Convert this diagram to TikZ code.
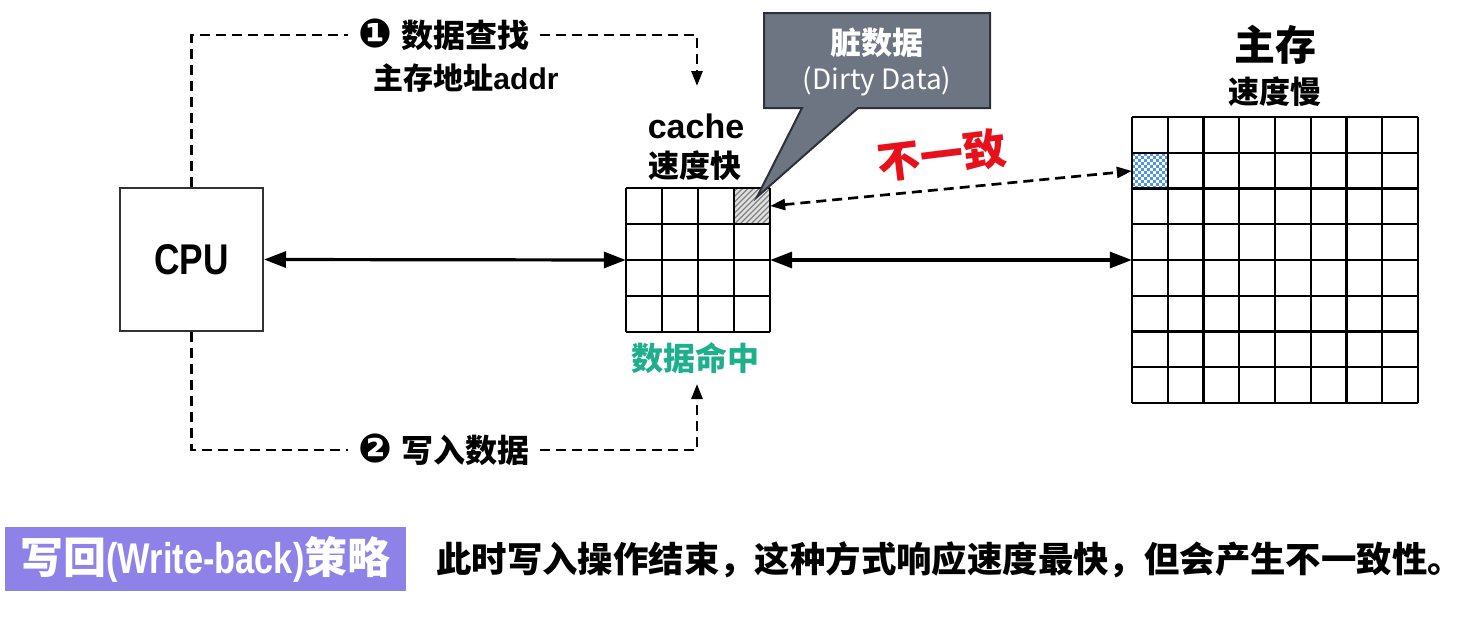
\documentclass[tikz,border=0pt]{standalone}
\usepackage{fontspec}
\usepackage{graphicx}
\setmainfont{Liberation Sans}
\newfontfamily\cjk{Noto Sans CJK SC}
\newfontfamily\dv{DejaVu Sans}
\usetikzlibrary{arrows.meta}
\definecolor{calloutgray}{RGB}{110,117,130}
\definecolor{calloutedge}{RGB}{45,50,58}
\definecolor{bannerpurple}{RGB}{142,129,232}
\definecolor{hitteal}{RGB}{30,176,140}
\definecolor{redtext}{RGB}{232,16,26}
\definecolor{memblue}{RGB}{80,150,230}
\definecolor{hatchgray}{RGB}{130,130,130}
\tikzset{
  gridline/.style={line width=2.2pt, black},
  boxline/.style={draw=black!80, line width=2pt},
  solidarrow/.style={line width=3.2pt, {Triangle[length=22pt,width=16pt]}-{Triangle[length=22pt,width=16pt]}},
  dashline/.style={line width=2.7pt, dash pattern=on 10pt off 6pt},
  dashtip/.style={dashline, -{Triangle[length=15pt,width=11pt]}},
  dashboth/.style={dashline, {Triangle[length=15pt,width=11pt]}-{Triangle[length=15pt,width=11pt]}},
  steplabel/.style={font=\bfseries\fontsize{32}{36}\selectfont, inner xsep=10pt, inner ysep=2pt},
  cjklabel/.style={font=\cjk\bfseries\fontsize{31}{35}\selectfont, inner sep=0pt},
}
\begin{document}
\begin{tikzpicture}[x=1pt,y=-1pt]
\useasboundingbox[fill=white] (0,0) rectangle (1465,621);

% CPU
\node[boxline, minimum width=143pt, minimum height=143pt, inner sep=0pt] (cpu) at (191.5,259.5)
  {\bfseries\fontsize{43}{46}\selectfont\scalebox{0.82}[1]{CPU}};

% cache grid
\node[minimum width=144pt, minimum height=144pt, inner sep=0pt] (cache) at (698,260) {};
\node[minimum width=36pt, minimum height=36pt, inner sep=0pt] (dirty) at (752,206) {};
\begin{scope}
  \clip (734,188) rectangle (770,224);
  \fill[black!12] (734,188) rectangle (770,224);
  \foreach \d in {-40,-34.5,...,40} \draw[hatchgray, line width=1.2pt] (734+\d,226) -- ++(40,-40);
\end{scope}
\foreach \i in {0,...,4} {
  \draw[gridline] (626+36*\i,188) -- (626+36*\i,332);
  \draw[gridline] (626,188+36*\i) -- (770,188+36*\i);
}

% main memory grid
\node[minimum width=286pt, minimum height=286pt, inner sep=0pt] (mem) at (1275,260) {};
\node[minimum width=36pt, minimum height=36pt, inner sep=0pt] (memcell) at (1150,171) {};
\foreach \i in {0,...,11}{\foreach \j in {0,...,11}{%
  \pgfmathtruncatemacro\k{mod(\i+\j,2)}%
  \ifnum\k=0 \fill[memblue] (1132+3*\i,153+3*\j) rectangle ++(3,3);\fi}}
\foreach \i in {0,...,8} {
  \draw[gridline] (1132+35.75*\i,117) -- (1132+35.75*\i,403);
  \draw[gridline] (1132,117+35.75*\i) -- (1418,117+35.75*\i);
}

% labels
\node[inner sep=0pt] (cachename) at (696,126) {\bfseries\fontsize{34}{36}\selectfont cache};
\node[cjklabel] (cachespeed) at (695,166) {速度快};
\node[inner sep=0pt] (memname) at (1275,45) {\cjk\bfseries\fontsize{41}{44}\selectfont 主存};
\node[cjklabel] (memspeed) at (1275,92) {速度慢};
\node[inner sep=0pt, text=hitteal] (hit) at (695,358) {\cjk\bfseries\fontsize{32}{35}\selectfont 数据命中};

% solid arrows
\draw[solidarrow] (cpu.east) -- (cache.west);
\draw[solidarrow] (cache.east) -- (mem.west);

% dashed inconsistency arrow
\draw[dashboth] (dirty.east) -- (memcell.west);
\node[rotate=7, inner sep=0pt, text=redtext] (incons) at (942,155) {\cjk\bfseries\fontsize{43}{46}\selectfont 不一致};

% step 1
\node[steplabel] (step1) at (444,35) {{\dv\fontsize{40}{40}\selectfont ❶} {\cjk 数据查找}};
\coordinate (tip1) at (697,86);
\draw[dashline] (cpu.north) |- (step1.west);
\draw[dashtip] (step1.east) -| (tip1);
\node[inner sep=0pt] (addr) at (466,78) {\bfseries\fontsize{30}{34}\selectfont{\cjk 主存地址}addr};

% step 2
\node[steplabel] (step2) at (444,450) {{\dv\fontsize{40}{40}\selectfont ❷} {\cjk 写入数据}};
\coordinate (tip2) at (697,384);
\draw[dashline] (cpu.south) |- (step2.west);
\draw[dashtip] (step2.east) -| (tip2);

% callout
\draw[fill=calloutgray, draw=calloutedge, line width=2pt, line join=miter]
  (764,13) -- (990,13) -- (990,108) -- (858,108) -- (757,197) -- (802,108) -- (764,108) -- cycle;
\node[inner sep=0pt, text=white] (dirtyname) at (877,43) {\cjk\bfseries\fontsize{31}{34}\selectfont 脏数据};
\node[inner sep=0pt, text=white] (dirtyen) at (877,81) {\cjk\fontsize{28}{30}\selectfont (Dirty Data)};

% banner
\node[fill=bannerpurple, minimum width=401pt, minimum height=64pt, inner sep=0pt, text=white] (banner) at (205.5,559)
  {\bfseries\fontsize{43}{46}\selectfont{\cjk 写回}\scalebox{0.8}[1]{(Write-back)}{\cjk 策略}};
\node[anchor=west, inner sep=0pt] (summary) at (436,560)
  {\cjk\bfseries\fontsize{35.4}{38}\selectfont 此时写入操作结束，这种方式响应速度最快，但会产生不一致性。};
\end{tikzpicture}
\end{document}
